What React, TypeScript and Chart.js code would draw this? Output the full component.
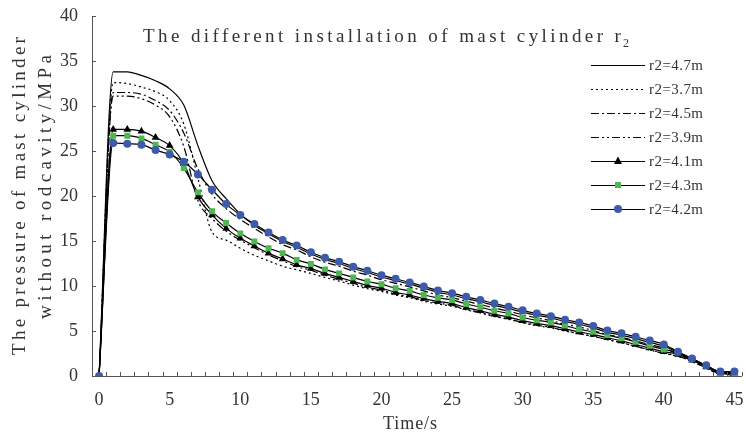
import React, { useEffect, useRef } from "react";
import { Chart, registerables } from "chart.js";

Chart.register(...registerables);

const TIME = [0, 1, 2, 3, 4, 5, 6, 7, 8, 9, 10, 11, 12, 13, 14, 15, 16, 17, 18, 19, 20, 21, 22, 23, 24, 25, 26, 27, 28, 29, 30, 31, 32, 33, 34, 35, 36, 37, 38, 39, 40, 41, 42, 43, 44, 45];

const R47 = [0, 33.8, 33.8, 33.4, 32.8, 31.9, 30.1, 25.6, 21.7, 19.7, 18.0, 16.75, 15.8, 14.95, 14.3, 13.55, 12.95, 12.5, 11.95, 11.5, 11.0, 10.6, 10.2, 9.75, 9.3, 9.0, 8.6, 8.25, 7.85, 7.5, 7.1, 6.75, 6.45, 6.05, 5.75, 5.35, 4.85, 4.55, 4.15, 3.75, 3.3, 2.6, 1.85, 1.1, 0.4, 0.4];
const R37 = [0, 32.6, 32.5, 32.1, 31.6, 30.6, 28.0, 22.0, 16.0, 15.1, 14.2, 13.4, 12.8, 12.2, 11.8, 11.4, 10.95, 10.55, 10.1, 9.7, 9.4, 9.0, 8.7, 8.3, 8.0, 7.75, 7.35, 7.0, 6.6, 6.3, 5.9, 5.6, 5.35, 5.0, 4.7, 4.4, 4.05, 3.7, 3.3, 2.9, 2.55, 2.2, 1.6, 0.9, 0.25, 0.25];
const R45 = [0, 31.5, 31.5, 31.3, 30.6, 29.5, 27.0, 23.0, 20.2, 18.6, 17.4, 16.4, 15.45, 14.6, 14.0, 13.25, 12.65, 12.2, 11.65, 11.2, 10.7, 10.3, 9.9, 9.45, 9.0, 8.7, 8.3, 7.95, 7.55, 7.2, 6.8, 6.45, 6.15, 5.75, 5.45, 5.05, 4.6, 4.3, 3.9, 3.5, 3.1, 2.4, 1.7, 1.0, 0.3, 0.3];
const R39 = [0, 31.1, 31.1, 30.8, 30.1, 28.8, 25.5, 19.5, 17.5, 16.1, 15.1, 14.25, 13.45, 12.8, 12.15, 11.75, 11.2, 10.75, 10.3, 9.85, 9.55, 9.1, 8.8, 8.4, 8.1, 7.85, 7.4, 7.05, 6.65, 6.35, 5.95, 5.65, 5.4, 5.05, 4.7, 4.4, 4.05, 3.7, 3.3, 2.9, 2.5, 2.2, 1.6, 0.9, 0.2, 0.2];
const R41 = [0, 27.4, 27.4, 27.2, 26.5, 25.6, 23.6, 19.9, 17.9, 16.4, 15.3, 14.45, 13.65, 13.0, 12.35, 11.95, 11.4, 10.95, 10.5, 10.05, 9.75, 9.3, 9.0, 8.6, 8.3, 8.05, 7.6, 7.25, 6.85, 6.55, 6.15, 5.85, 5.6, 5.25, 4.9, 4.6, 4.25, 3.9, 3.5, 3.1, 2.7, 2.4, 1.75, 1.0, 0.3, 0.3];
const R43 = [0, 26.7, 26.7, 26.4, 25.7, 24.9, 23.1, 20.4, 18.3, 17.0, 15.85, 14.95, 14.2, 13.65, 12.9, 12.45, 11.85, 11.4, 10.95, 10.5, 10.2, 9.75, 9.45, 9.0, 8.7, 8.45, 8.0, 7.65, 7.25, 6.95, 6.5, 6.2, 5.95, 5.6, 5.2, 4.9, 4.55, 4.2, 3.8, 3.35, 2.95, 2.6, 1.9, 1.15, 0.4, 0];
const R42 = [0, 25.9, 25.8, 25.7, 25.1, 24.6, 23.8, 22.4, 20.7, 19.1, 17.9, 16.9, 15.95, 15.1, 14.5, 13.75, 13.15, 12.7, 12.15, 11.7, 11.2, 10.8, 10.4, 9.95, 9.5, 9.2, 8.8, 8.45, 8.05, 7.7, 7.3, 6.95, 6.65, 6.25, 5.95, 5.55, 5.05, 4.75, 4.35, 3.95, 3.5, 2.7, 1.95, 1.2, 0.5, 0.5];

const SERIES_LABELS = ["r2=4.7m", "r2=3.7m", "r2=4.5m", "r2=3.9m", "r2=4.1m", "r2=4.3m", "r2=4.2m"];
const X_TICKS = [0, 5, 10, 15, 20, 25, 30, 35, 40, 45];
const Y_TICKS = [0, 5, 10, 15, 20, 25, 30, 35, 40];

const TITLE = "The different installation of mast cylinder r";
const Y_TITLE_1 = "The pressure of mast cylinder";
const Y_TITLE_2 = "without rodcavity/MPa";
const X_TITLE = "Time/s";

const SERIF = "'Liberation Serif', 'Times New Roman', serif";

const GREEN = "#4cb84f";
const BLUE = "#3d5aab";
const TEXT = "#333333";
const AXIS = "#555555";

type Style = { dash: number[]; marker: string | null; color: string; order: number };
const STYLES: Style[] = [
  { dash: [], marker: null, color: "#000", order: 4 },
  { dash: [2, 3], marker: null, color: "#000", order: 6 },
  { dash: [8, 3, 2, 3], marker: null, color: "#000", order: 3 },
  { dash: [8, 3, 2, 3, 2, 3], marker: null, color: "#000", order: 5 },
  { dash: [], marker: "triangle", color: "#000", order: 2 },
  { dash: [], marker: "rect", color: GREEN, order: 1 },
  { dash: [], marker: "circle", color: BLUE, order: 0 },
];

function drawMarker(ctx: CanvasRenderingContext2D, kind: string, x: number, y: number, color: string) {
  ctx.save();
  ctx.setLineDash([]);
  ctx.fillStyle = color;
  ctx.beginPath();
  if (kind === "circle") {
    ctx.arc(x, y, 4, 0, Math.PI * 2);
  } else if (kind === "rect") {
    ctx.rect(x - 3, y - 3, 6, 6);
  } else if (kind === "triangle") {
    ctx.moveTo(x, y - 4.5);
    ctx.lineTo(x + 4, y + 3);
    ctx.lineTo(x - 4, y + 3);
    ctx.closePath();
  }
  ctx.fill();
  ctx.restore();
}

// draw text left-aligned at x, spread to the given width (mono-like spacing)
function spreadText(ctx: CanvasRenderingContext2D, text: string, x: number, y: number, width: number) {
  const c: any = ctx;
  c.letterSpacing = "0px";
  const w = ctx.measureText(text).width;
  const n = Math.max(1, text.length - 1);
  const sp = (width - w) / n;
  c.letterSpacing = sp.toFixed(2) + "px";
  ctx.fillText(text, x, y);
  c.letterSpacing = "0px";
  return x + width;
}

export default function App() {
  const ref = useRef<HTMLCanvasElement | null>(null);

  useEffect(() => {
    const canvas = ref.current;
    if (!canvas) return;
    const all = [R47, R37, R45, R39, R41, R43, R42];

    const datasets = all.map((vals, i) => {
      const st = STYLES[i];
      return {
        label: SERIES_LABELS[i],
        data: TIME.map((t, k) => ({ x: t, y: vals[k] })),
        borderColor: "#000",
        borderWidth: 1.2,
        borderDash: st.dash,
        pointStyle: st.marker || "circle",
        pointRadius: st.marker ? (st.marker === "rect" ? 4.2 : st.marker === "triangle" ? 4.5 : 4) : 0,
        pointBackgroundColor: st.marker === "triangle" ? "#000" : st.color,
        pointBorderColor: st.marker === "triangle" ? "#000" : st.color,
        pointBorderWidth: 0,
        pointHoverRadius: 0,
        cubicInterpolationMode: "monotone" as const,
        fill: false,
        order: st.order,
      };
    });

    const deco = {
      id: "deco",
      afterDraw(chart: any) {
        const ctx: CanvasRenderingContext2D = chart.ctx;
        const xs = chart.scales.x;
        const ys = chart.scales.y;
        const area = chart.chartArea;
        ctx.save();
        ctx.strokeStyle = AXIS;
        ctx.lineWidth = 1;
        ctx.setLineDash([]);
        ctx.beginPath();
        for (let k = 0; k <= 46; k++) {
          const px = Math.round(xs.getPixelForValue(k - 0.5)) + 0.5;
          ctx.moveTo(px, area.bottom);
          ctx.lineTo(px, area.bottom - 4);
        }
        for (const v of Y_TICKS) {
          const py = Math.round(ys.getPixelForValue(v)) + 0.5;
          ctx.moveTo(area.left, py);
          ctx.lineTo(area.left + 4, py);
        }
        ctx.stroke();

        ctx.fillStyle = TEXT;
        ctx.textBaseline = "middle";
        ctx.textAlign = "left";

        // title
        ctx.font = "19px " + SERIF;
        const endX = spreadText(ctx, TITLE, 143, 37, 478);
        ctx.font = "12px " + SERIF;
        ctx.fillText("2", endX + 2, 44);

        // x title
        ctx.font = "18px " + SERIF;
        spreadText(ctx, X_TITLE, 383, 424, 54);

        // y titles
        ctx.save();
        ctx.translate(20, 355);
        ctx.rotate(-Math.PI / 2);
        ctx.font = "19px " + SERIF;
        spreadText(ctx, Y_TITLE_1, 0, 0, 318);
        ctx.restore();
        ctx.save();
        ctx.translate(46, 319);
        ctx.rotate(-Math.PI / 2);
        ctx.font = "19px " + SERIF;
        spreadText(ctx, Y_TITLE_2, 0, 0, 264);
        ctx.restore();

        // legend
        SERIES_LABELS.forEach((lab, i) => {
          const st = STYLES[i];
          const y = 65 + i * 24;
          ctx.strokeStyle = "#000";
          ctx.lineWidth = 1.2;
          ctx.setLineDash(st.dash);
          ctx.beginPath();
          ctx.moveTo(591, y + 0.5);
          ctx.lineTo(645, y + 0.5);
          ctx.stroke();
          ctx.setLineDash([]);
          if (st.marker) drawMarker(ctx, st.marker, 618, y, st.marker === "triangle" ? "#000" : st.color);
          ctx.fillStyle = TEXT;
          ctx.font = "15px " + SERIF;
          spreadText(ctx, lab, 649, y + 1, 54);
        });
        ctx.restore();
      },
    };

    const chart = new Chart(canvas, {
      type: "line",
      data: { datasets: datasets as any },
      options: {
        animation: false,
        responsive: false,
        devicePixelRatio: 1,
        events: [],
        layout: { padding: { top: 16, right: 1, left: 0, bottom: 0 } },
        plugins: { legend: { display: false }, title: { display: false }, tooltip: { enabled: false } },
        scales: {
          x: {
            type: "linear",
            min: -0.5,
            max: 45.5,
            grid: { display: false, drawTicks: false },
            border: { display: true, color: AXIS, width: 1 },
            afterBuildTicks: (scale: any) => {
              scale.ticks = X_TICKS.map((v) => ({ value: v }));
            },
            afterFit: (scale: any) => {
              scale.height = 61;
              scale.paddingLeft = 0;
              scale.paddingRight = 0;
            },
            ticks: {
              autoSkip: false,
              maxRotation: 0,
              padding: 13,
              color: TEXT,
              font: { family: SERIF, size: 18 },
            },
          },
          y: {
            type: "linear",
            min: 0,
            max: 40,
            grid: { display: false, drawTicks: false },
            border: { display: true, color: AXIS, width: 1 },
            afterBuildTicks: (scale: any) => {
              scale.ticks = Y_TICKS.map((v) => ({ value: v }));
            },
            afterFit: (scale: any) => {
              scale.width = 92;
              scale.paddingTop = 0;
              scale.paddingBottom = 0;
            },
            ticks: {
              padding: 14,
              color: TEXT,
              font: { family: SERIF, size: 18 },
            },
          },
        },
      },
      plugins: [deco],
    });

    return () => {
      chart.destroy();
    };
  }, []);

  return (
    <div style={{ position: "absolute", left: 0, top: 0, width: 746, height: 437, background: "#fff" }}>
      <canvas ref={ref} width={746} height={437} style={{ display: "block", width: 746, height: 437 }} />
    </div>
  );
}
